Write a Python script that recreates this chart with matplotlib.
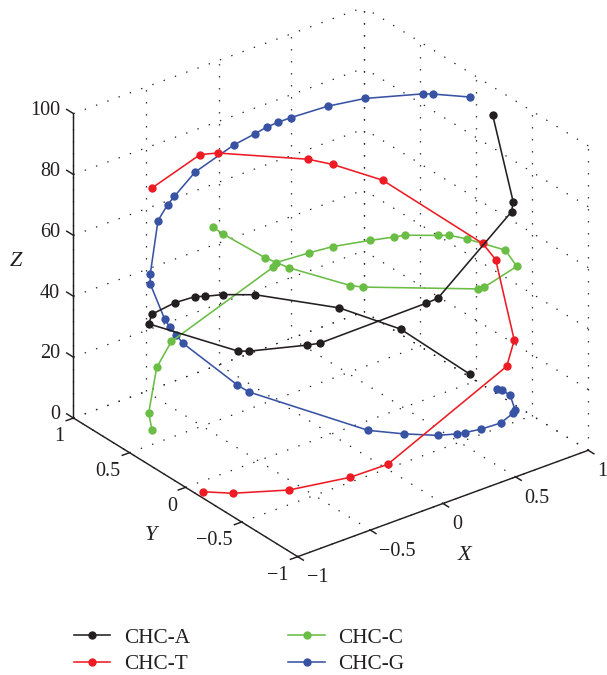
"""Chaos-helix curves of the four CHC bases drawn as a 3D plot with dotted walls."""

import matplotlib
matplotlib.use("Agg")
import matplotlib.pyplot as plt
from mpl_toolkits.mplot3d import proj3d

plt.rcParams["font.family"] = ["Liberation Serif", "DejaVu Sans"]

TICKS_XY = [-1, -0.5, 0, 0.5, 1]
TICK_LABELS_XY = ["\u22121", "\u22120.5", "0", "0.5", "1"]
TICKS_Z = [0, 20, 40, 60, 80, 100]

a_x = [0.999, 0.866, 0.647, 0.231, 0.027, -0.098, -0.173, -0.353, -0.634, -0.861,
       -0.928, -0.901, -0.710, -0.658, -0.110, -0.036, 0.676, 0.720, 0.986]
a_y = [0.056, 0.500, 0.763, 0.973, 1.000, 0.996, 0.985, 0.936, 0.773, 0.509,
       -0.372, -0.435, -0.705, -0.753, -0.994, -1.000, -0.737, -0.693, -0.165]
a_z = [1.0, 8.0, 12.8, 19.6, 22.6, 24.3, 25.8, 28.0, 32.9, 39.7,
       52.0, 52.9, 57.7, 58.5, 67.6, 68.0, 78.1, 79.6, 91.5]

t_x = [-0.990, -0.940, -0.776, -0.525, -0.336, 0.584, 0.767, 0.980, 0.998, 0.810,
       0.619, 0.509, -0.007, -0.134, -0.640]
t_y = [-0.146, -0.342, -0.632, -0.852, -0.942, -0.812, -0.642, -0.200, -0.060, 0.587,
       0.786, 0.861, 1.000, 0.992, 0.768]
t_z = [1.7, 4.8, 9.6, 14.4, 17.4, 30.6, 32.1, 44.8, 46.6, 55.9,
       59.9, 61.8, 69.7, 71.6, 74.5]

c_x = [-0.909, -0.861, -0.558, -0.386, 0.330, 0.346, 0.511, 0.619, 0.766, 0.846, 0.879, 0.958,
       0.978, 0.997, 0.943, 0.802, 0.327, 0.267, -0.463, -0.524, -0.776, -0.854, -0.961, -0.977]
c_y = [0.417, 0.509, 0.830, 0.922, 0.945, 0.939, 0.860, 0.786, 0.644, 0.534, 0.478, 0.288,
       0.213, 0.081, -0.335, -0.619, -0.945, -0.964, -0.887, -0.853, -0.632, -0.520, -0.280, -0.215]
c_z = [7.6, 10.5, 12.8, 16.2, 27.5, 28.9, 31.0, 32.9, 35.6, 37.8, 39.1, 42.0,
       43.4, 44.9, 51.6, 55.2, 64.1, 65.0, 76.6, 77.4, 82.6, 84.7, 89.0, 90.0]

g_x = [0.977, 0.958, 0.902, 0.782, 0.720, 0.501, 0.299, 0.162, 0.100, -0.036, -0.247, -0.438,
       -0.900, -0.929, -1.000, -0.996, -0.987, -0.977, -0.884, -0.887, -0.540, -0.424, -0.356,
       -0.175, 0.101, 0.231, 0.295, 0.356, 0.423, 0.597, 0.747, 0.926, 0.947, 0.998]
g_y = [-0.216, -0.288, -0.431, -0.629, -0.693, -0.865, -0.955, -0.988, -0.995, -1.000, -0.970, -0.900,
       -0.435, -0.371, 0.025, 0.090, 0.157, 0.216, 0.467, 0.461, 0.842, 0.906, 0.935,
       0.985, 0.995, 0.974, 0.956, 0.935, 0.907, 0.803, 0.664, 0.378, 0.320, 0.053]
g_z = [2.8, 4.2, 6.8, 8.7, 10.1, 14.6, 18.2, 20.2, 21.0, 23.0, 26.5, 29.4,
       39.5, 40.8, 46.8, 48.0, 48.8, 49.9, 54.3, 57.7, 60.4, 62.2, 63.0,
       66.7, 70.6, 72.5, 73.9, 74.9, 75.9, 79.0, 82.1, 87.0, 87.9, 92.1]

BLACK = "#231f20"
RED = "#ed1c24"
GREEN = "#6abd45"
BLUE = "#3953a4"
FONT = 14.5

DOTTED = dict(color="#222222", lw=0.9, ls=(0, (1.1, 8.5)), zorder=1)
SOLID = dict(color=BLACK, lw=1.05, zorder=2, solid_capstyle="projecting")


def put_label(ax, x, y, z, label, **kwargs):
    """Tick label at a 3D spot, kept as a plain 2D text on the axes."""
    px, py, _ = proj3d.proj_transform(x, y, z, ax.get_proj())
    ax.text2D(px, py, label, transform=ax.transData, fontsize=FONT, color=BLACK, **kwargs)


def draw_walls(ax):
    """Dotted grid on the floor and on the two back walls."""
    for t in TICKS_XY:
        ax.plot([t, t], [-1, 1], [0, 0], **DOTTED)
        ax.plot([-1, 1], [t, t], [0, 0], **DOTTED)
        ax.plot([t, t], [1, 1], [0, 100], **DOTTED)
        ax.plot([1, 1], [t, t], [0, 100], **DOTTED)
    for z in TICKS_Z:
        ax.plot([-1, 1], [1, 1], [z, z], **DOTTED)
        ax.plot([1, 1], [-1, 1], [z, z], **DOTTED)


def draw_axes(ax):
    """Solid axis lines, ticks and tick labels."""
    ax.plot([-1, 1], [-1, -1], [0, 0], **SOLID)
    ax.plot([-1, -1], [-1, 1], [0, 0], **SOLID)
    ax.plot([-1, -1], [1, 1], [0, 100], **SOLID)
    for t, label in zip(TICKS_XY, TICK_LABELS_XY):
        ax.plot([t, t], [-1, -1.05], [0, 0], **SOLID)
        ax.plot([-1, -1.05], [t, t], [0, 0], **SOLID)
        put_label(ax, t, -1.08, -2, label, ha="left", va="top")
        put_label(ax, -1.06, t, -2, label, ha="right", va="top")
    for z in TICKS_Z:
        ax.plot([-1, -1], [1, 1.06], [z, z], **SOLID)
        put_label(ax, -1, 1.12, z - 1.7, str(z), ha="right", va="center")


def main():
    fig = plt.figure(figsize=(6.07, 6.75), dpi=100)
    ax = fig.add_axes([19.15 / 607, 81.35 / 675, 1, 607 / 675], projection="3d",
                      proj_type="ortho")
    ax.computed_zorder = False
    ax.view_init(elev=28.41, azim=-127.58)
    ax.set_xlim(-1, 1, view_margin=0)
    ax.set_ylim(-1, 1, view_margin=0)
    ax.set_zlim(0, 100, view_margin=0)
    ax.set_box_aspect((366.7, 367.8, 346.2), zoom=0.998)
    ax.set_axis_off()

    draw_walls(ax)
    draw_axes(ax)

    style = dict(marker="o", ms=6.0, lw=1.15, mew=0)
    line_g, = ax.plot(g_x, g_y, g_z, color=BLUE, zorder=3, **style)
    line_c, = ax.plot(c_x, c_y, c_z, color=GREEN, zorder=4, **style)
    line_t, = ax.plot(t_x, t_y, t_z, color=RED, zorder=5, **style)
    line_a, = ax.plot(a_x, a_y, a_z, color=BLACK, zorder=6, **style)

    for px, py, name in [(465, 556, "X"), (151, 535, "Y"), (16, 262, "Z")]:
        fig.text(px / 607, 1 - py / 675, name, style="italic", fontsize=16,
                 ha="center", va="center", color=BLACK)

    fig.legend([line_a, line_t, line_c, line_g], ["CHC-A", "CHC-T", "CHC-C", "CHC-G"],
               ncol=2, frameon=False, fontsize=15.3, loc="lower left",
               bbox_to_anchor=(74 / 607, 1 - 674 / 675), borderaxespad=0, borderpad=0,
               handlelength=1.7, handletextpad=0.66, columnspacing=4.62, labelspacing=0.31,
               labelcolor=BLACK)

    fig.savefig("out.png", dpi=100)
    plt.close(fig)


if __name__ == "__main__":
    main()
